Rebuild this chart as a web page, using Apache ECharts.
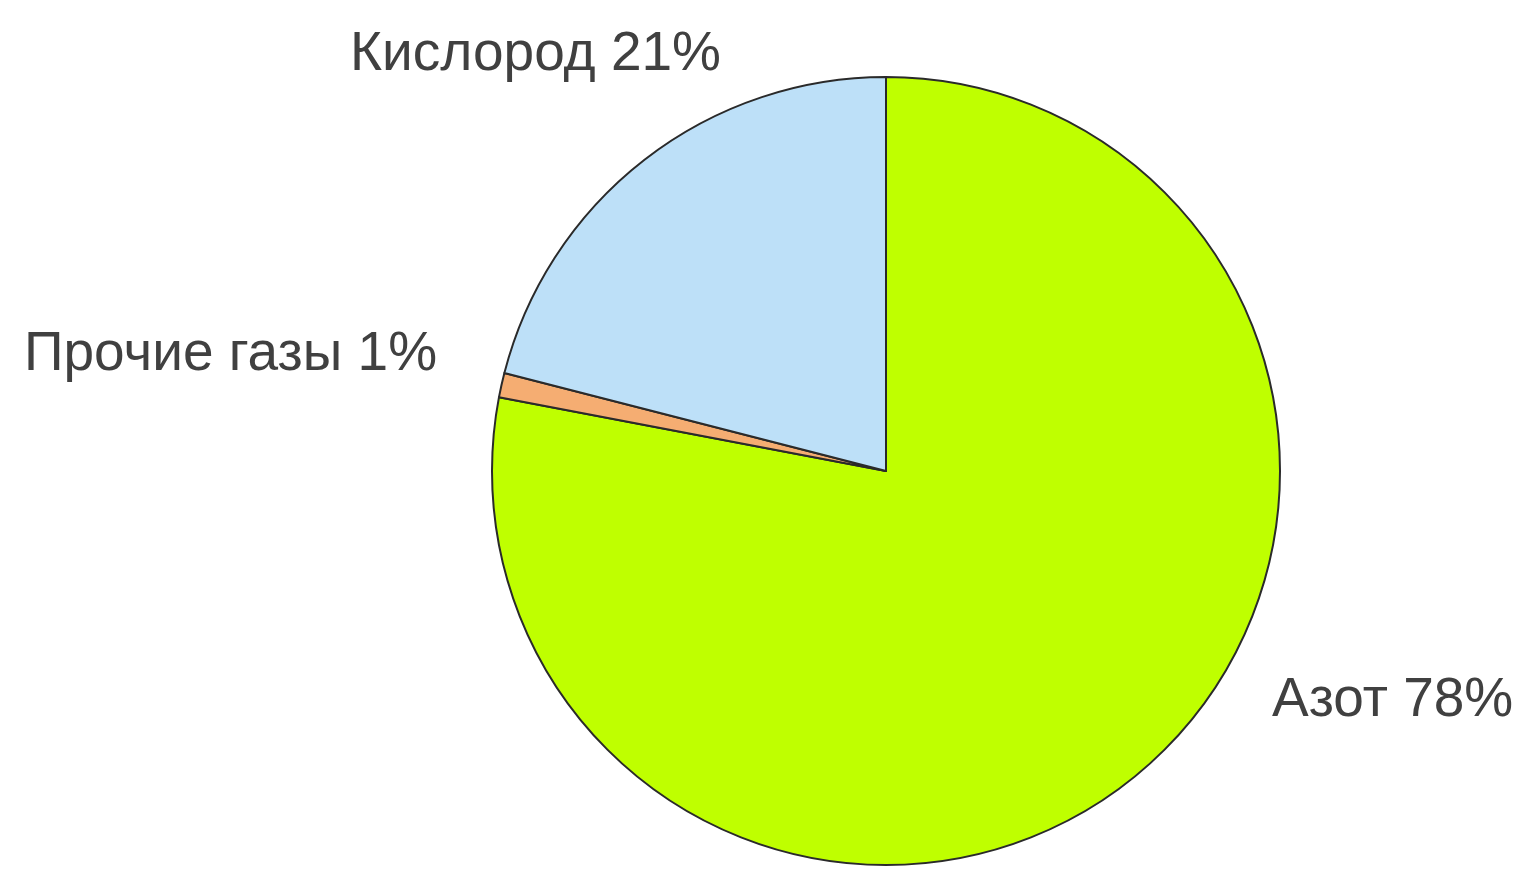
<!DOCTYPE html>
<html>
<head>
<meta charset="utf-8">
<script src="https://cdn.jsdelivr.net/npm/echarts@6/dist/echarts.min.js"></script>
<style>
html,body{margin:0;padding:0;background:#fff;}
#chart{width:1524px;height:876px;}
</style>
</head>
<body>
<div id="chart"></div>
<script>
var categories = ['Азот', 'Прочие газы', 'Кислород'];
var values = [78, 1, 21];
var colors = ['#bfff00', '#f5ad72', '#bde0f8'];
var labelPos = [[1272, 701], [24, 355], [350, 55]];

var chart = echarts.init(document.getElementById('chart'));
chart.setOption({
  animation: false,
  backgroundColor: '#ffffff',
  series: [{
    type: 'pie',
    center: [886, 471],
    radius: 394,
    startAngle: 90,
    clockwise: true,
    silent: true,
    data: categories.map(function (c, i) {
      return { name: c, value: values[i], itemStyle: { color: colors[i] } };
    }),
    itemStyle: { borderColor: '#2a2a2a', borderWidth: 2 },
    label: {
      show: true,
      position: 'outside',
      formatter: '{b} {c}%',
      color: '#404040',
      fontFamily: 'Liberation Sans, Arial, sans-serif',
      fontSize: 55
    },
    labelLine: { show: false },
    labelLayout: function (p) {
      var pos = labelPos[p.dataIndex];
      return { x: pos[0], y: pos[1], align: 'left', verticalAlign: 'middle' };
    }
  }]
});
</script>
</body>
</html>
